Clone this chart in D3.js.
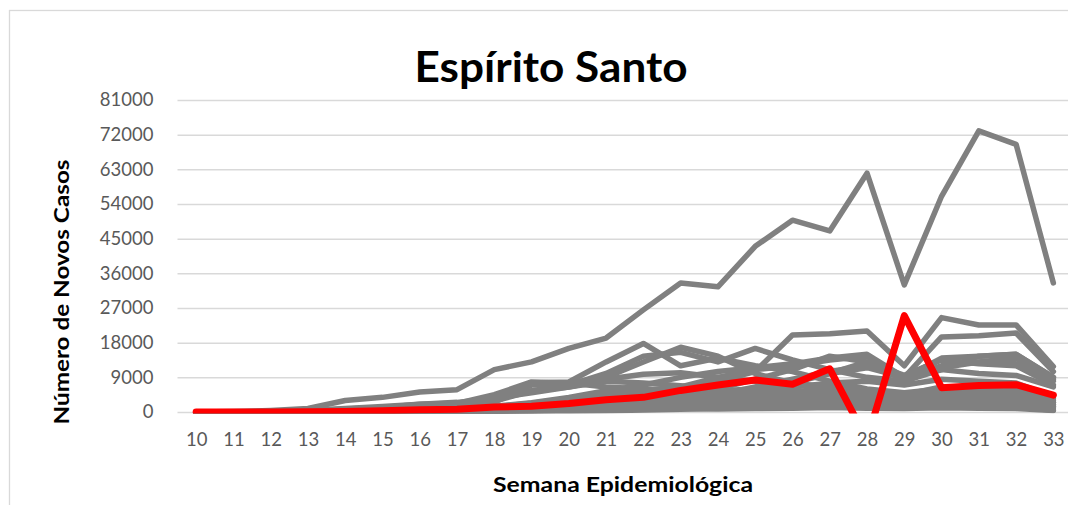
<!DOCTYPE html>
<html>
<head>
<meta charset="utf-8">
<script src="https://cdn.jsdelivr.net/npm/d3@7"></script>
<style>
  html, body { margin: 0; padding: 0; background: #fff; }
  svg { display: block; }
</style>
</head>
<body>
<svg id="chart" width="1068" height="505"></svg>
<script>
// ---- data ----
const weeks = [10,11,12,13,14,15,16,17,18,19,20,21,22,23,24,25,26,27,28,29,30,31,32,33];
const yTicks = [0,9000,18000,27000,36000,45000,54000,63000,72000,81000];
const title = "Espírito Santo";
const xTitle = "Semana Epidemiológica";
const yTitle = "Número de Novos Casos";

const SP = [0,100,400,900,3000,3800,5200,5800,11000,13000,16500,19200,26500,33500,32500,43000,49800,47000,62000,33000,56000,73000,69500,33500];
const MG = [0,20,50,100,150,250,400,600,900,1300,1800,2600,4500,6500,8000,10500,20000,20300,21000,12000,24500,22600,22600,11800];
const BA = [0,10,40,80,150,300,500,800,1500,2400,3800,5500,7000,9000,10500,11500,12500,14000,15000,9000,19500,19800,20500,10500];
const RJ = [0,30,150,400,900,1400,2000,2500,3500,5500,7000,10000,14500,15500,13000,16500,13500,11000,9000,8000,11000,10000,9500,6500];
const CE = [0,20,100,300,800,1200,2000,2300,3200,7500,7800,13000,17800,12000,14000,12000,10500,8000,6000,5000,6000,5500,5000,3500];
const PA = [0,0,10,50,150,300,600,1000,2500,7000,7500,9000,13000,16800,14500,10000,7500,6500,5500,4500,5000,5500,6000,3800];
const GO = [0,5,20,50,80,100,150,200,300,500,800,1200,2000,3000,4500,6000,7500,10000,13000,9000,14000,14500,15000,9000];
const DF = [0,10,40,80,150,200,300,400,700,1200,2000,3500,5500,6500,9000,11000,12000,13500,14500,8000,11500,13000,14000,8500];
const PE = [0,5,20,80,300,700,1500,2200,3600,5000,6500,8500,9800,10200,9000,8000,7000,6000,4500,3500,5000,4500,4000,2500];
const AM = [0,0,10,50,300,800,1400,2200,4500,7800,7500,6500,6000,5500,4500,4200,3500,3500,3000,3000,4000,3800,3500,2000];
const MA = [0,0,5,20,100,300,700,1200,2800,5500,6500,8000,7500,6800,5500,5000,4200,4000,3500,3000,3800,3500,3200,2000];
const SC = [0,10,50,100,150,150,200,300,400,600,900,1500,2500,4000,6000,8500,11000,14500,13000,9500,13500,12500,12000,7000];
const RS = [0,10,40,80,100,120,150,200,250,400,600,1000,1800,3000,4500,6000,8000,10000,11500,9000,12000,13000,12500,8000];
const PR = [0,5,30,60,100,100,120,150,200,300,500,900,1500,2500,4500,6500,8500,10500,12000,8500,11000,14500,15000,9000];
const PB = [0,0,5,20,60,150,350,700,1300,2300,3500,4500,5500,6000,5500,6000,5500,5000,4500,4000,5500,5000,4800,2500];
const MT = [0,0,5,10,20,40,60,100,200,300,500,800,1500,2500,4000,5000,6500,7500,8000,7000,8500,8000,7500,4000];
const PI = [0,0,5,10,30,60,150,300,600,1200,1800,2500,3000,3500,4000,4500,5000,5500,5000,4500,6500,6000,5500,3000];
const RN = [0,0,5,30,100,150,250,400,800,1500,2500,3500,4500,4800,5000,4500,4000,3500,3000,2500,3000,2800,2500,1500];
const SE = [0,0,5,10,20,40,100,200,400,800,1500,2500,3500,4500,5000,4800,4500,4000,3500,3000,3500,3300,3000,1800];
const AL = [0,0,0,5,20,50,150,300,700,1200,2000,3000,3500,3800,3500,3200,3000,2800,2500,2200,2800,2600,2500,1200];
const TO = [0,0,0,5,10,20,50,100,200,400,700,1000,1500,2000,2500,3000,3500,3500,3300,3000,3500,3300,3000,1500];
const AP = [0,0,0,5,20,80,200,500,1000,1800,2500,2800,2500,2000,1800,1500,1200,1500,1800,2000,2200,2000,1800,800];
const RO = [0,0,0,5,10,30,80,200,400,800,1200,1800,2500,3000,3200,3500,3800,3500,3200,3000,3500,3200,3000,1500];
const AC = [0,0,5,10,20,40,100,200,400,700,1000,1200,1000,900,800,900,1000,1200,1000,900,1100,1000,900,400];
const RR = [0,0,0,5,10,30,80,150,300,500,800,1200,1800,2500,2500,2800,2500,2200,1800,1500,1500,1300,1200,500];
const MS = [0,0,5,10,20,30,50,60,100,150,200,300,500,700,1000,1500,2200,2800,3500,3500,4500,4800,5000,2500];

const ES = [0,5,20,50,150,300,600,700,1300,1500,2200,3200,3800,5600,7000,8300,7200,11200,-7200,25000,6300,6900,7100,4400];

const graySeries = [MS, RR, AC, RO, AP, TO, AL, SE, RN, PI, MT, PB, PR, RS, SC, MA, AM, PE, DF, GO, PA, CE, RJ, BA, MG, SP];

// ---- layout ----
const svg = d3.select("#chart");
const plotLeft = 177.5, plotRight = 1072, plotTop = 100, plotBottom = 412;
const font = "Lato, 'Open Sans', sans-serif";

const x = d3.scalePoint().domain(weeks).range([plotLeft, plotRight]).padding(0.5);
const y = d3.scaleLinear().domain([0, 81000]).range([plotBottom, plotTop]);

// chart border
svg.append("rect").attr("x", 9.5).attr("y", 10.5).attr("width", 1100).attr("height", 600)
  .attr("fill", "none").attr("stroke", "#d9d9d9").attr("stroke-width", 1.3);

// title
svg.append("text").text(title)
  .attr("x", 551).attr("y", 82).attr("text-anchor", "middle")
  .attr("font-family", font).attr("font-weight", "bold")
  .attr("font-size", 42).attr("fill", "#000")
  .attr("textLength", 273).attr("lengthAdjust", "spacingAndGlyphs");

// gridlines + y tick labels via axis
const yAxis = d3.axisLeft(y).tickValues(yTicks).tickSize(-(plotRight - plotLeft)).tickFormat(d3.format("d")).tickPadding(24);
const gy = svg.append("g").attr("transform", `translate(${plotLeft},0)`).call(yAxis);
gy.select(".domain").remove();
gy.selectAll(".tick line").attr("stroke", "#d9d9d9").attr("stroke-width", 1.5);
gy.selectAll(".tick text").attr("fill", "#595959")
  .attr("font-family", font).attr("font-size", 18.5);

// x axis labels
const xAxis = d3.axisBottom(x).tickSize(0).tickPadding(21);
const gx = svg.append("g").attr("transform", `translate(0,${plotBottom})`).call(xAxis);
gx.select(".domain").remove();
gx.selectAll(".tick text").attr("fill", "#595959")
  .attr("font-family", font).attr("font-size", 18.5);

// axis titles
svg.append("text").text(xTitle)
  .attr("x", 623).attr("y", 492).attr("text-anchor", "middle")
  .attr("font-family", font).attr("font-weight", "bold")
  .attr("font-size", 20).attr("fill", "#000")
  .attr("textLength", 260).attr("lengthAdjust", "spacingAndGlyphs");

svg.append("text").text(yTitle)
  .attr("transform", "translate(69,292) rotate(-90)").attr("text-anchor", "middle")
  .attr("font-family", font).attr("font-weight", "bold")
  .attr("font-size", 21).attr("fill", "#000")
  .attr("textLength", 265).attr("lengthAdjust", "spacingAndGlyphs");

// clip
svg.append("clipPath").attr("id", "plotclip").append("rect")
  .attr("x", plotLeft).attr("y", 0).attr("width", plotRight - plotLeft).attr("height", plotBottom + 1.5);

const line = d3.line().x((d, i) => x(weeks[i])).y(d => y(d));
const g = svg.append("g").attr("clip-path", "url(#plotclip)");

g.selectAll("path.gray").data(graySeries).join("path")
  .attr("class", "gray").attr("d", line)
  .attr("fill", "none").attr("stroke", "#808080").attr("stroke-width", 5.5)
  .attr("stroke-linejoin", "round").attr("stroke-linecap", "round");

g.append("path").datum(ES).attr("d", line)
  .attr("fill", "none").attr("stroke", "#ff0000").attr("stroke-width", 7)
  .attr("stroke-linejoin", "round").attr("stroke-linecap", "round");
</script>
</body>
</html>
